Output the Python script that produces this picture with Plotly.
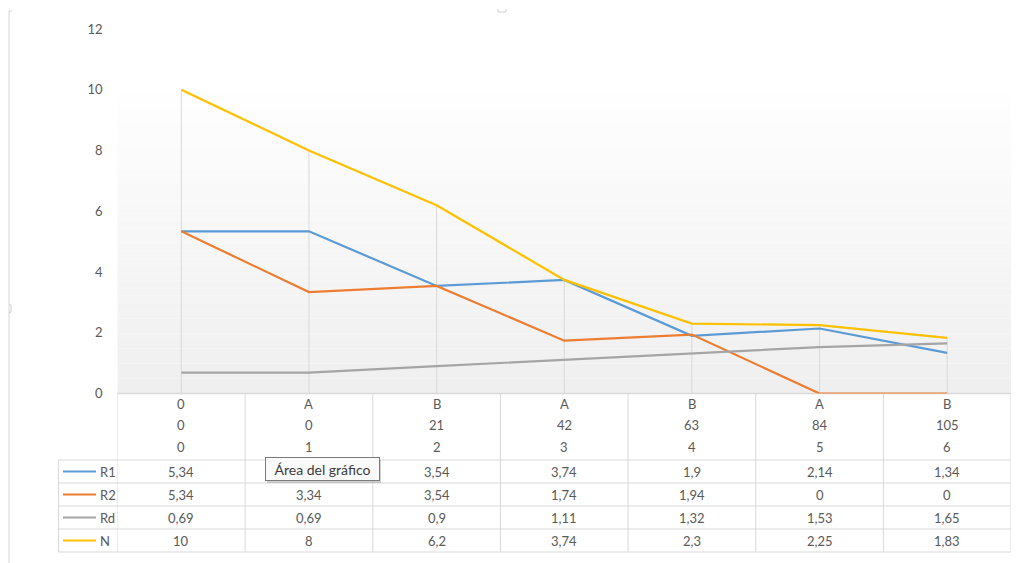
import plotly.graph_objects as go

# Category levels shown under the x axis (three label rows)
level_letter = ["0", "A", "B", "A", "B", "A", "B"]
level_day = ["0", "0", "21", "42", "63", "84", "105"]
level_index = ["0", "1", "2", "3", "4", "5", "6"]

series_names = ["R1", "R2", "Rd", "N"]
r1 = [5.34, 5.34, 3.54, 3.74, 1.9, 2.14, 1.34]
r2 = [5.34, 3.34, 3.54, 1.74, 1.94, 0, 0]
rd = [0.69, 0.69, 0.9, 1.11, 1.32, 1.53, 1.65]
n = [10, 8, 6.2, 3.74, 2.3, 2.25, 1.83]

y_ticks = [0, 2, 4, 6, 8, 10, 12]

colors = ["#5B9BD5", "#ED7D31", "#A5A5A5", "#FFC000"]
series_values = [r1, r2, rd, n]

W, H = 1032, 563
FONT = "Lato, 'Open Sans', sans-serif"
TXT = "#595959"
GRID = "#d9d9d9"


def px(x):
    return x / W


def py(y):
    return 1 - y / H


x_idx = list(range(len(level_index)))
x_left, x_right = 117.5, 1011.0
y_zero, y_top = 393.5, 29.0

fig = go.Figure()

shapes = []

# Plot-area gradient (white at the top to light grey at the axis)
g_top, g_bot = 93.0, y_zero
steps = 40
for i in range(steps):
    t = i / (steps - 1)
    c = int(round(254 - t * (254 - 239)))
    y0 = g_top + (g_bot - g_top) * i / steps
    y1 = g_top + (g_bot - g_top) * (i + 1) / steps
    shapes.append(dict(type="rect", xref="paper", yref="paper",
                       x0=px(x_left), x1=px(x_right), y0=py(y1), y1=py(y0),
                       fillcolor=f"rgb({c},{c},{c})", line=dict(width=0),
                       layer="below"))

# Drop lines from the highest series value down to the axis
for i in x_idx:
    top = max(s[i] for s in series_values)
    shapes.append(dict(type="line", xref="x", yref="y", x0=i, x1=i,
                       y0=0, y1=top, line=dict(color=GRID, width=1),
                       layer="below"))

# Data table grid
row_lines = [460, 483, 506, 529, 552]
shapes.append(dict(type="line", xref="paper", yref="paper",
                   x0=px(x_left), x1=px(x_right), y0=py(y_zero), y1=py(y_zero),
                   line=dict(color=GRID, width=1.5), layer="below"))
for yy in row_lines:
    shapes.append(dict(type="line", xref="paper", yref="paper",
                       x0=px(58.5), x1=px(x_right), y0=py(yy), y1=py(yy),
                       line=dict(color=GRID, width=1)))
for k in range(len(x_idx) + 1):
    xx = k - 0.5
    shapes.append(dict(type="line", xref="x", yref="paper",
                       x0=xx, x1=xx, y0=py(y_zero), y1=py(552),
                       line=dict(color=GRID, width=1), layer="below"))
shapes.append(dict(type="line", xref="paper", yref="paper",
                   x0=px(58.5), x1=px(58.5), y0=py(460), y1=py(552),
                   line=dict(color=GRID, width=1)))

# Legend keys in the table
for r, col in enumerate(colors):
    yc = (row_lines[r] + row_lines[r + 1]) / 2
    shapes.append(dict(type="line", xref="paper", yref="paper",
                       x0=px(63), x1=px(96), y0=py(yc), y1=py(yc),
                       line=dict(color=col, width=2)))

# Chart-area frame on the left and small handle marks
shapes.append(dict(type="line", xref="paper", yref="paper",
                   x0=px(9), x1=px(9), y0=py(11), y1=py(563),
                   line=dict(color="#d6d6d6", width=1)))
shapes.append(dict(type="line", xref="paper", yref="paper",
                   x0=px(9), x1=px(12), y0=py(11), y1=py(11),
                   line=dict(color="#d6d6d6", width=1)))
shapes.append(dict(type="path", xref="paper", yref="paper",
                   path=f"M {px(9)} {py(304)} L {px(11)} {py(305)} L {px(11)} {py(312)} L {px(9)} {py(313)}",
                   line=dict(color="#cfcfcf", width=1)))
shapes.append(dict(type="path", xref="paper", yref="paper",
                   path=f"M {px(498)} {py(9)} L {px(498)} {py(12)} L {px(506)} {py(12)} L {px(506)} {py(9)}",
                   line=dict(color="#d0d0d0", width=1)))

# Tooltip shadow
shapes.append(dict(type="rect", xref="paper", yref="paper",
                   x0=px(267), x1=px(381), y0=py(483), y1=py(460),
                   fillcolor="rgba(0,0,0,0.18)", line=dict(width=0)))

for name, vals, col in zip(series_names, series_values, colors):
    fig.add_trace(go.Scatter(x=x_idx, y=vals, mode="lines", name=name,
                             line=dict(color=col, width=2.2),
                             cliponaxis=False,
                             showlegend=False, hoverinfo="skip"))

annotations = []
header_rows = [(level_letter, 404), (level_day, 425), (level_index, 447)]
for labels, yy in header_rows:
    for i, lab in zip(x_idx, labels):
        annotations.append(dict(x=i, y=py(yy), xref="x", yref="paper",
                                text=lab, showarrow=False,
                                font=dict(family=FONT, size=13, color=TXT),
                                xanchor="center", yanchor="middle"))


def fmt(v):
    s = f"{v:.2f}".rstrip("0").rstrip(".")
    return s.replace(".", ",")


for r, (name, vals) in enumerate(zip(series_names, series_values)):
    yc = (row_lines[r] + row_lines[r + 1]) / 2
    annotations.append(dict(x=px(98), y=py(yc), xref="paper", yref="paper",
                            text=name, showarrow=False,
                            font=dict(family=FONT, size=13, color=TXT),
                            xanchor="left", yanchor="middle"))
    for i, v in zip(x_idx, vals):
        annotations.append(dict(x=i, y=py(yc), xref="x", yref="paper",
                                text=fmt(v), showarrow=False,
                                font=dict(family=FONT, size=13, color=TXT),
                                xanchor="center", yanchor="middle"))

# Hover tooltip over the chart area
annotations.append(dict(x=px(265), y=py(469), xref="paper", yref="paper",
                        text="Área del gráfico", showarrow=False,
                        font=dict(family=FONT, size=14, color="#3c3c3c"),
                        xanchor="left", yanchor="middle",
                        bgcolor="#fafafa", bordercolor="#7a7a7a",
                        borderwidth=1, borderpad=3, width=107, height=16))

fig.update_layout(
    width=W, height=H,
    margin=dict(l=0, r=0, t=0, b=0, pad=0, autoexpand=False),
    paper_bgcolor="white", plot_bgcolor="rgba(0,0,0,0)",
    shapes=shapes, annotations=annotations,
    xaxis=dict(domain=[px(x_left), px(x_right)], range=[-0.5, 6.5],
               showticklabels=False, showgrid=False, zeroline=False,
               showline=False, fixedrange=True, automargin=False),
    yaxis=dict(domain=[py(y_zero), py(y_top)], range=[0, 12],
               tickvals=y_ticks, ticktext=[str(v) for v in y_ticks],
               showgrid=False, zeroline=False, showline=False,
               ticks="", ticklabelstandoff=14, automargin=False,
               tickfont=dict(family=FONT, size=13, color=TXT),
               fixedrange=True),
    showlegend=False,
)

fig.write_html("out.html", config={"displayModeBar": False})
